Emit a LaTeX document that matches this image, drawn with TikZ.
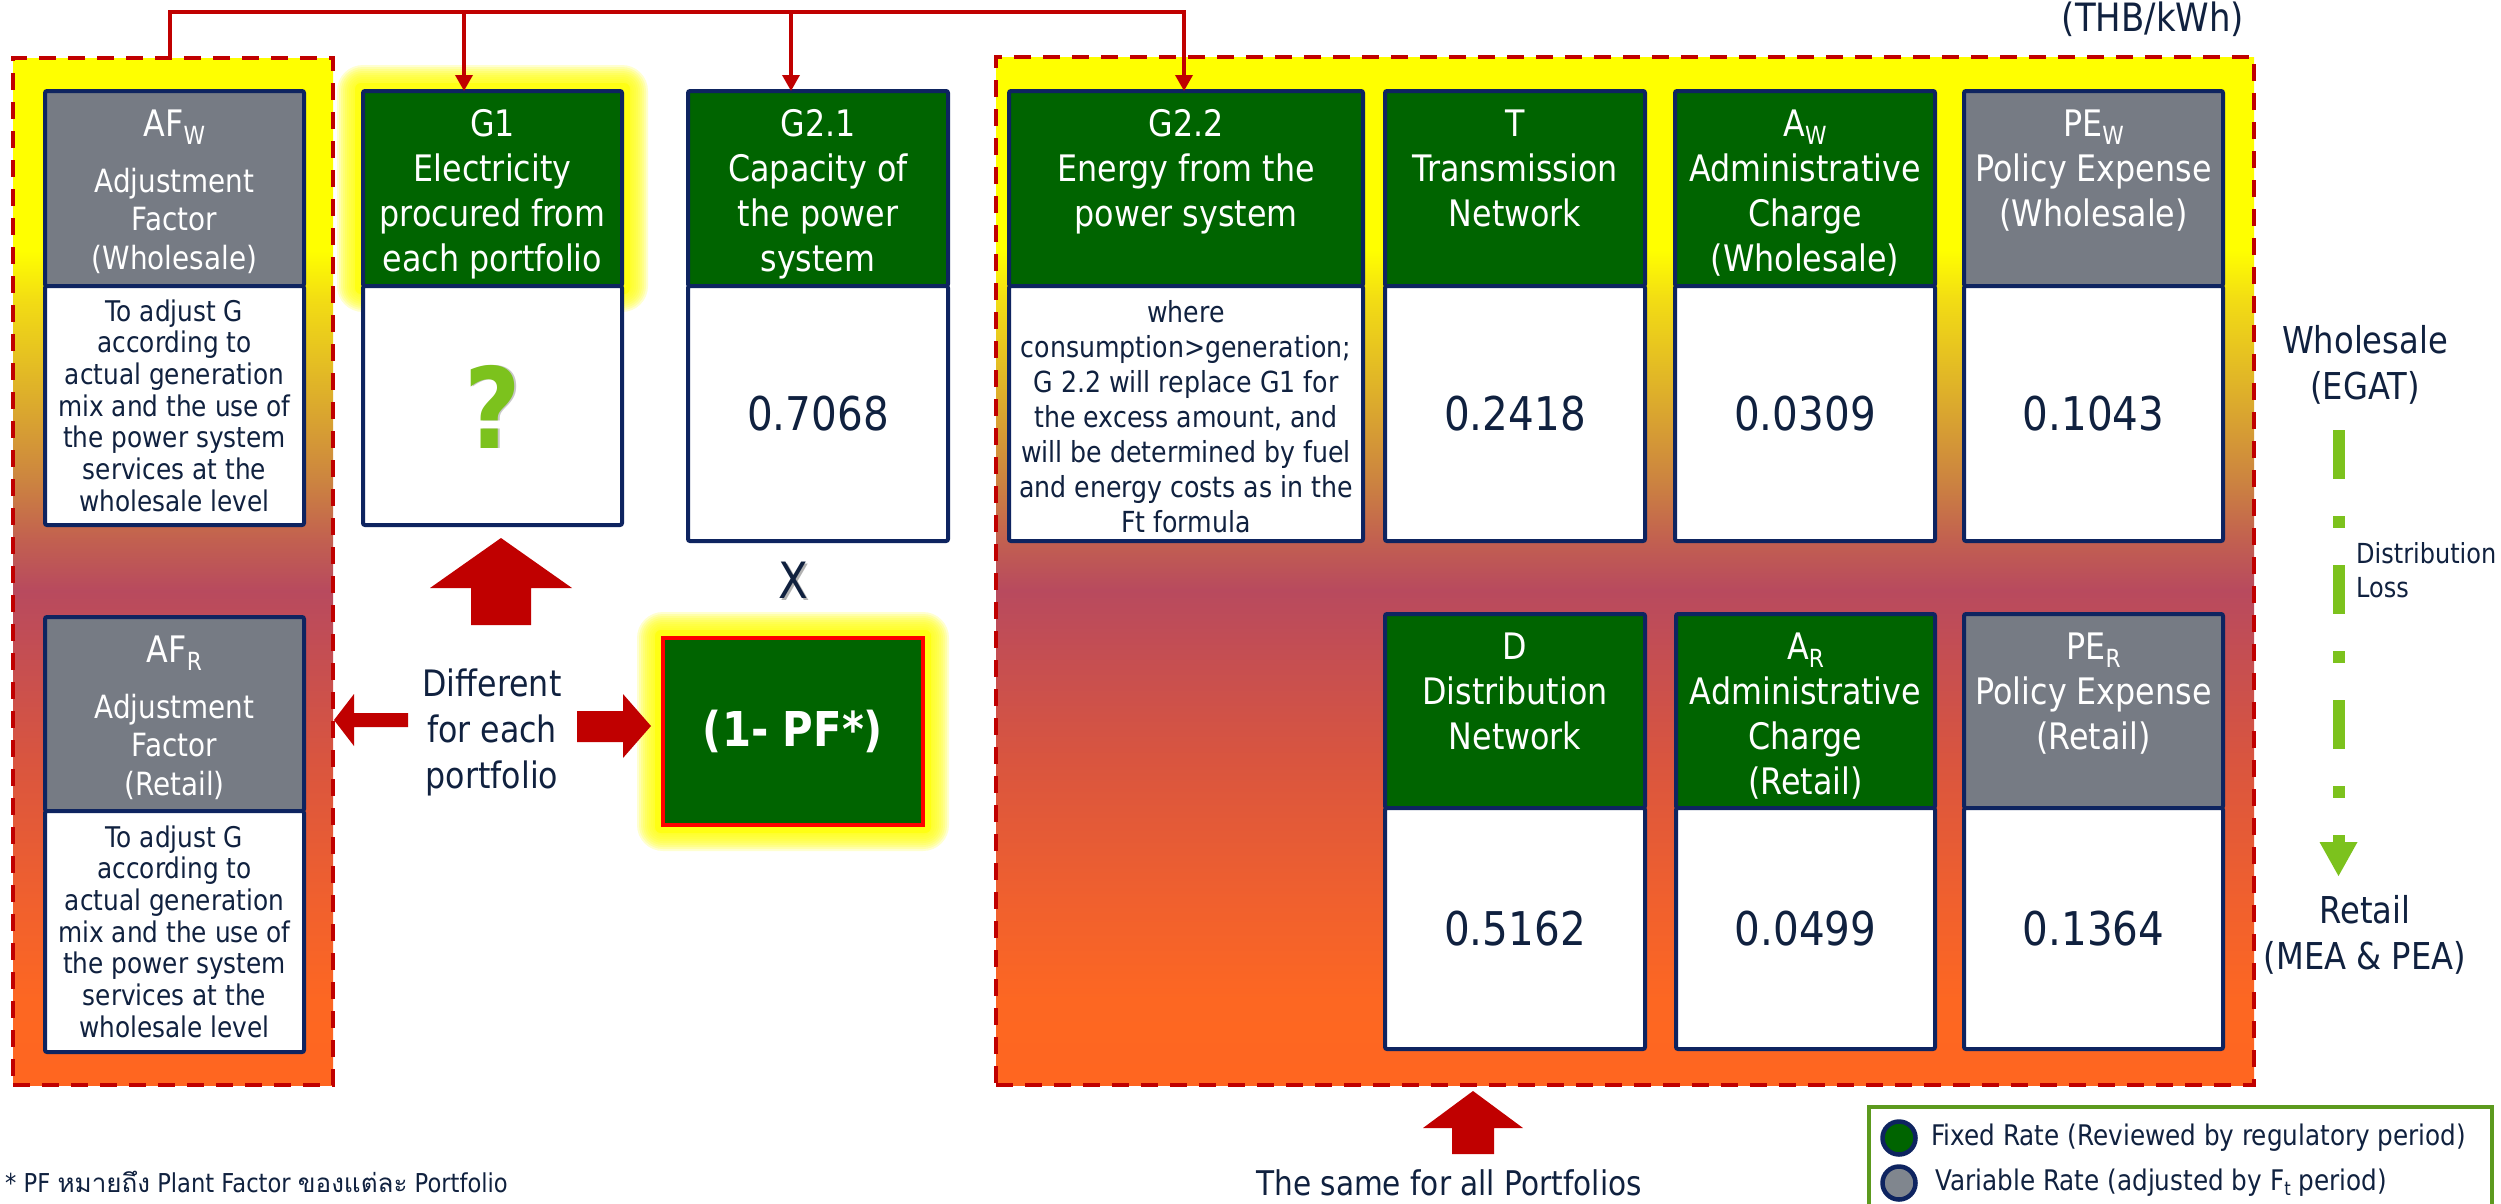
\documentclass[tikz,border=0pt]{standalone}
\usepackage{fontspec}
\setmainfont{DejaVu Sans}[FakeStretch=0.87]
\newfontfamily\thaifont[Script=Thai]{Loma}
\usetikzlibrary{arrows.meta}

% palette
\definecolor{hdrgreen}{HTML}{006400}
\definecolor{hdrgray}{HTML}{767B84}
\definecolor{cellnavy}{HTML}{0E2460}
\definecolor{inknavy}{HTML}{10213F}
\definecolor{arrowred}{HTML}{C00000}
\definecolor{dashred}{HTML}{C00000}
\definecolor{pfred}{HTML}{FF0000}
\definecolor{limegreen}{HTML}{7CC21D}
\definecolor{leggreen}{HTML}{5C9A1E}
\definecolor{dotgray}{HTML}{80868E}
\definecolor{haloyellow}{HTML}{FFFF14}
% stops of the yellow-to-orange group background
\definecolor{gA}{HTML}{FF6620}
\definecolor{gB}{HTML}{FD6722}
\definecolor{gC}{HTML}{F0602E}
\definecolor{gD}{HTML}{D9553F}
\definecolor{gE}{HTML}{B84A5E}
\definecolor{gF}{HTML}{C26050}
\definecolor{gG}{HTML}{CC8440}
\definecolor{gH}{HTML}{DCAC2C}
\definecolor{gI}{HTML}{F2DC14}
\definecolor{gJ}{HTML}{FFFF00}

\pgfdeclareverticalshading{tariffgrad}{100bp}{%
  color(0bp)=(gA); color(25bp)=(gA); color(29.13bp)=(gB); color(34bp)=(gC);
  color(40.81bp)=(gD); color(49.08bp)=(gE); color(51.51bp)=(gF);
  color(54.43bp)=(gG); color(58.32bp)=(gH); color(63.18bp)=(gI);
  color(65.61bp)=(gJ); color(75bp)=(gJ); color(100bp)=(gJ)}

\pgfdeclarelayer{halo}
\pgfsetlayers{halo,main}

\tikzset{
  grp/.style={shade, shading=tariffgrad, draw=dashred, line width=4.5pt,
    dash pattern=on 17pt off 12pt, inner sep=0pt, outer sep=0pt},
  cellhead/.style={draw=cellnavy, line width=4pt, rounded corners=2pt,
    inner sep=0pt, outer sep=0pt},
  cellbody/.style={cellhead, fill=white},
  headtext/.style={font=\fontsize{36.5}{45}\selectfont, text=white,
    align=center, inner sep=0pt},
  afhead/.style={font=\fontsize{32}{38.5}\selectfont, text=white,
    align=center, inner sep=0pt},
  numtext/.style={font=\fontsize{46.5}{50}\selectfont, text=inknavy, inner sep=0pt},
  notetext/.style={font=\fontsize{28.5}{31.7}\selectfont, text=inknavy,
    align=center, inner sep=0pt},
  gnotetext/.style={font=\fontsize{29}{35}\selectfont, text=inknavy,
    align=center, inner sep=0pt},
  sidetext/.style={font=\fontsize{37}{46}\selectfont, text=inknavy,
    align=center, inner sep=0pt},
  losstext/.style={font=\fontsize{27.6}{34}\selectfont, text=inknavy,
    align=left, inner sep=0pt},
  midtext/.style={font=\fontsize{36.4}{46}\selectfont, text=inknavy,
    align=center, inner sep=0pt},
  busline/.style={draw=arrowred, line width=3.5pt},
  bustip/.style={busline, -{Triangle[length=16pt,width=17pt]}},
  blockarrow/.style={fill=arrowred},
  legbox/.style={draw=leggreen, line width=4pt, fill=white, inner sep=0pt, outer sep=0pt},
  legdot/.style={circle, draw=cellnavy, line width=4.5pt, minimum size=33pt, inner sep=0pt},
  legtext/.style={font=\fontsize{28.4}{32}\selectfont, text=inknavy, inner sep=0pt},
  pfbox/.style={fill=hdrgreen, draw=pfred, line width=4.5pt, minimum width=260pt,
    minimum height=187pt, inner sep=0pt, outer sep=0pt, text=white,
    font=\fontsize{48}{50}\selectfont\bfseries},
  lossline/.style={draw=limegreen, line width=12pt,
    dash pattern=on 49pt off 37pt on 12pt off 37pt},
}

% lowered index letter in the cell titles
\newcommand\subs[1]{\raisebox{-8pt}{\fontsize{25}{25}\selectfont #1}}

% one tariff cell: name, left x, top y, width, title height, body height, title fill, title text
\newcommand\tcell[8]{%
  \node[cellhead, fill=#7, minimum width=#4pt, minimum height=#5pt, anchor=north west] (#1h) at (#2,#3) {};
  \node[cellbody, minimum width=#4pt, minimum height=#6pt, anchor=north west] (#1b) at (#1h.south west) {};
  \node[headtext, anchor=north] (#1t) at ([yshift=-13.8pt]#1h.north) {\strut #8};
}

% soft yellow glow around a node
\newcommand\halo[1]{%
  \fill[haloyellow, rounded corners=6pt] ([shift={(-8,-8)}]#1.north west) rectangle ([shift={(8,8)}]#1.south east);
  \foreach \k in {1,...,9}{
    \pgfmathsetmacro\d{8+2*\k}
    \fill[haloyellow, opacity=0.2, rounded corners=\d pt]
      ([shift={(-\d,-\d)}]#1.north west) rectangle ([shift={(\d,\d)}]#1.south east);
  }}

\begin{document}
\begin{tikzpicture}[x=1pt,y=-1pt]
\useasboundingbox (0,0) rectangle (2501,1203);

% group backgrounds
\node[grp, minimum width=320pt, minimum height=1027pt, anchor=north west] (lgrp) at (13,58) {};
\node[grp, minimum width=1258pt, minimum height=1028pt, anchor=north west] (rgrp) at (996,57) {};

% wholesale row
\tcell{afw}{45}{91}{259}{195}{239}{hdrgray}{AF\subs{W}}
\tcell{gone}{363}{91}{259}{195}{239}{hdrgreen}{G1\\Electricity\\procured from\\each portfolio}
\tcell{gtwoa}{688}{91}{260}{195}{255}{hdrgreen}{G2.1\\Capacity of\\the power\\system}
\tcell{gtwob}{1009}{91}{354}{195}{255}{hdrgreen}{G2.2\\Energy from the\\power system}
\tcell{tx}{1385}{91}{260}{195}{255}{hdrgreen}{T\\Transmission\\Network}
\tcell{aw}{1675}{91}{260}{195}{255}{hdrgreen}{A\subs{W}\\Administrative\\Charge\\(Wholesale)}
\tcell{pew}{1964}{91}{259}{195}{255}{hdrgray}{PE\subs{W}\\Policy Expense\\(Wholesale)}

% retail row
\tcell{afr}{45}{617}{259}{194}{241}{hdrgray}{AF\subs{R}}
\tcell{dx}{1385}{614}{260}{194}{241}{hdrgreen}{D\\Distribution\\Network}
\tcell{ar}{1676}{614}{259}{194}{241}{hdrgreen}{A\subs{R}\\Administrative\\Charge\\(Retail)}
\tcell{per}{1964}{614}{259}{194}{241}{hdrgray}{PE\subs{R}\\Policy Expense\\(Retail)}

\node[afhead, anchor=north] (afwl) at ([yshift=-74.2pt]afwh.north) {\strut Adjustment\\Factor\\(Wholesale)};
\node[afhead, anchor=north] (afrl) at ([yshift=-74.2pt]afrh.north) {\strut Adjustment\\Factor\\(Retail)};

% cell contents
\node[notetext] (afwd) at (afwb.center) {To adjust G\\according to\\actual generation\\mix and the use of\\the power system\\services at the\\wholesale level};
\node[notetext] (afrd) at (afrb.center) {To adjust G\\according to\\actual generation\\mix and the use of\\the power system\\services at the\\wholesale level};
\node[font=\fontsize{112}{120}\selectfont\bfseries, text=black, opacity=0.22, inner sep=0pt] (qshade) at ([shift={(2.5,1)}]goneb.center) {?};
\node[font=\fontsize{112}{120}\selectfont\bfseries, text=limegreen, inner sep=0pt] (qmark) at ([yshift=-1pt]goneb.center) {?};
\node[numtext] (gtwoav) at (gtwoab.center) {0.7068};
\node[gnotetext] (gtwobd) at ([yshift=-3pt]gtwobb.center) {where\\consumption>generation;\\G 2.2 will replace G1 for\\the excess amount, and\\will be determined by fuel\\and energy costs as in the\\Ft formula};
\node[numtext] (txv) at (txb.center) {0.2418};
\node[numtext] (awv) at (awb.center) {0.0309};
\node[numtext] (pewv) at (pewb.center) {0.1043};
\node[numtext] (dxv) at (dxb.center) {0.5162};
\node[numtext] (arv) at (arb.center) {0.0499};
\node[numtext] (perv) at (perb.center) {0.1364};

% plant factor term
\node[font=\fontsize{50}{52}\selectfont, text=black, opacity=0.3, inner sep=0pt] (timesshade) at (795,582) {X};
\node[font=\fontsize{50}{52}\selectfont, text=inknavy, inner sep=0pt] (times) at (793,580) {X};
\node[pfbox] (pf) at (793,731.5) {(1- PF*)};

% glows and paper
\begin{pgfonlayer}{halo}
  \fill[white] (0,0) rectangle (2501,1203);
  \halo{goneh}
  \halo{pf}
\end{pgfonlayer}

% red feed lines into the cells
\coordinate (busl) at (170,12);
\coordinate (busr) at (1184,12);
\coordinate (dropa) at (464,12);
\coordinate (dropb) at (791,12);
\draw[bustip] (lgrp.north -| busl) -- (busl) -- (busr) -- (busr |- gtwobh.north);
\draw[bustip] (dropa) -- (dropa |- goneh.north);
\draw[bustip] (dropb) -- (dropb |- gtwoah.north);

% block arrows
\fill[blockarrow] (501,538) -- (572,588) -- (531,588) -- (531,625) -- (471,625) -- (471,588) -- (430,588) -- cycle;
\fill[blockarrow] (334,720) -- (354,694) -- (354,713) -- (408,713) -- (408,727) -- (354,727) -- (354,746) -- cycle;
\fill[blockarrow] (651,726) -- (623,758) -- (623,742) -- (577,742) -- (577,711) -- (623,711) -- (623,694) -- cycle;
\fill[blockarrow] (1473,1091) -- (1523,1128) -- (1494,1128) -- (1494,1154) -- (1452,1154) -- (1452,1128) -- (1423,1128) -- cycle;

\node[midtext] (diff) at (492,732) {Different\\for each\\portfolio};
\node[midtext, font=\fontsize{34}{40}\selectfont, anchor=base west] (same) at (1256,1195) {The same for all Portfolios};

% side labels
\node[sidetext, font=\fontsize{39}{46}\selectfont] (thb) at (2153,19) {(THB/kWh)};
\node[sidetext] (wsl) at (2365,365) {Wholesale\\(EGAT)};
\node[sidetext] (rtl) at (2365,935) {Retail\\(MEA \& PEA)};
\node[losstext, anchor=west] (dloss) at (2356,570) {Distribution\\Loss};

\coordinate (losstop) at (2338.5,430);
\coordinate (lossend) at (2338.5,842);
\draw[lossline] (losstop) -- (lossend);
\fill[limegreen] ([xshift=-19pt]lossend) -- ([xshift=19pt]lossend) -- ([yshift=-34pt]lossend) -- cycle;

% legend
\node[legbox, minimum width=623pt, minimum height=140pt, anchor=north west] (legend) at (1869,1107) {};
\node[legdot, fill=hdrgreen] (dotfix) at (1899,1138) {};
\node[legdot, fill=dotgray] (dotvar) at (1899,1183) {};
\node[legtext, anchor=west] (legfix) at (1931,1138) {Fixed Rate (Reviewed by regulatory period)};
\node[legtext, anchor=west] (legvar) at (1935,1183) {Variable Rate (adjusted by F\raisebox{-5pt}{\fontsize{19}{19}\selectfont t} period)};

% footnote
\node[font=\fontsize{26}{30}\selectfont, text=inknavy, inner sep=0pt, anchor=base west] (pfnote) at (5,1192)
  {* PF {\thaifont หมายถึง} Plant Factor {\thaifont ของแต่ละ} Portfolio};
\end{tikzpicture}
\end{document}
